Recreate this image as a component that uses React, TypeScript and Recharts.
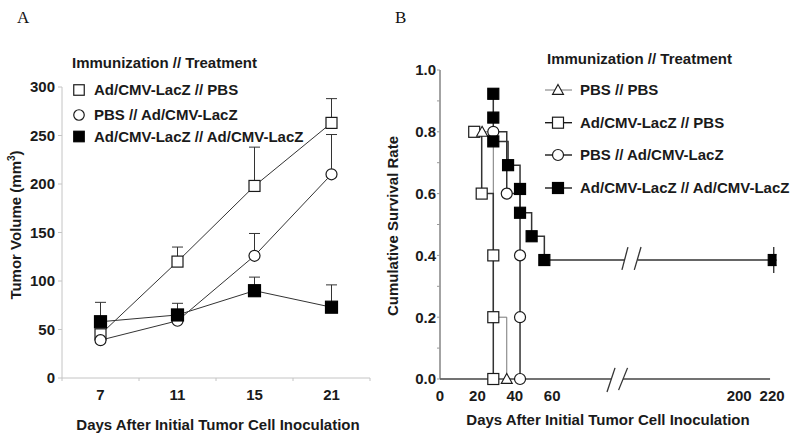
import React from 'react';
import { ComposedChart, Line, Scatter, XAxis, YAxis, ErrorBar, ReferenceLine } from 'recharts';

// ---- Panel A: tumor volume (mm3) by day ----
const days = ['7', '11', '15', '21'];
const lacZPbs = [45, 120, 198, 263];
const lacZPbsErr = [5, 15, 40, 25];
const pbsLacZ = [39, 59, 126, 210];
const pbsLacZErr = [0, 0, 23, 41];
const lacZLacZ = [58, 65, 90, 73];
const lacZLacZErr = [20, 12, 14, 23];
const volumeTicks = [0, 50, 100, 150, 200, 250, 300];

// ---- Panel B: cumulative survival, [day, rate] ----
const survPbsPbs = [[22.5, 0.8], [28.5, 0.2], [35.7, 0]];
const markPbsPbs = [[22.5, 0.8], [35.7, 0]];
const survLacZPbs = [[18.3, 0.8], [22.3, 0.6], [28.5, 0.4], [28.5, 0.2], [28.5, 0]];
const survPbsLacZ = [[28.5, 0.8], [35.7, 0.6], [42.8, 0.4], [42.8, 0.2], [42.8, 0]];
const survLacZLacZ = [
  [28.5, 0.923], [28.5, 0.846], [28.5, 0.769], [36.4, 0.692],
  [42.8, 0.615], [42.8, 0.538], [49, 0.462], [55.8, 0.385],
];
const censorLacZLacZ = [[221, 0.385]];
const dayTicks = [0, 20, 40, 60, 200, 220];
const rateTicks = [0, 0.1, 0.2, 0.3, 0.4, 0.5, 0.6, 0.7, 0.8, 0.9, 1.0];

const legendA = [
  { label: 'Ad/CMV-LacZ // PBS', kind: 'square' },
  { label: 'PBS // Ad/CMV-LacZ', kind: 'circle' },
  { label: 'Ad/CMV-LacZ // Ad/CMV-LacZ', kind: 'filled' },
];
const legendB = [
  { label: 'PBS // PBS', kind: 'triangle' },
  { label: 'Ad/CMV-LacZ // PBS', kind: 'square' },
  { label: 'PBS // Ad/CMV-LacZ', kind: 'circle' },
  { label: 'Ad/CMV-LacZ // Ad/CMV-LacZ', kind: 'filled' },
];

// broken x axis in panel B: days past 100 are squeezed
const toAxis = (d: number) => (d <= 100 ? d : 160 + (d - 200) * 0.88);
const axisGap = [91.5, 97.8];
const lineGap = [98.9, 105.6];
const axisEnd = 176.5;

const FONT = '"Liberation Sans", Arial, sans-serif';
const INK = '#1a1a1a';

const volumeData = days.map((day, i) => ({
  day,
  lacZPbs: lacZPbs[i],
  lacZPbsErr: [0, lacZPbsErr[i]],
  pbsLacZ: pbsLacZ[i],
  pbsLacZErr: [0, pbsLacZErr[i]],
  lacZLacZ: lacZLacZ[i],
  lacZLacZErr: [0, lacZLacZErr[i]],
}));

const pts = (arr: number[][]) => arr.map(([d, r]) => ({ x: toAxis(d), y: r }));
const lastRate = survLacZLacZ[survLacZLacZ.length - 1][1];
const lacZLacZLine = [
  ...pts(survLacZLacZ),
  { x: lineGap[0], y: lastRate },
  { x: (lineGap[0] + lineGap[1]) / 2, y: null },
  { x: lineGap[1], y: lastRate },
  ...pts(censorLacZLacZ),
];

function Symbol({ kind, cx, cy, s }: { kind: string; cx: number; cy: number; s: number }) {
  const h = s / 2;
  if (kind === 'circle')
    return <circle cx={cx} cy={cy} r={h} fill="#fff" stroke={INK} strokeWidth={1.2} />;
  if (kind === 'triangle')
    return (
      <polygon
        points={`${cx},${cy - h} ${cx + h},${cy + h * 0.8} ${cx - h},${cy + h * 0.8}`}
        fill="#fff"
        stroke={INK}
        strokeWidth={1.1}
      />
    );
  return (
    <rect
      x={cx - h}
      y={cy - h}
      width={s}
      height={s}
      fill={kind === 'filled' ? '#000' : '#fff'}
      stroke={kind === 'filled' ? '#000' : INK}
      strokeWidth={1.2}
    />
  );
}

const dotOf = (kind: string, s: number) => (p: any) => {
  if (p.cx == null || p.cy == null || p.value == null) return <g key={p.index} />;
  return <Symbol key={p.index} kind={kind} cx={p.cx} cy={p.cy} s={s} />;
};

const shapeOf = (kind: string, s: number) => (p: any) => <Symbol kind={kind} cx={p.cx} cy={p.cy} s={s} />;

const censorShape = (p: any) => (
  <g>
    <line x1={p.cx} x2={p.cx} y1={p.cy - 13} y2={p.cy + 13} stroke={INK} strokeWidth={1.2} />
    <line x1={p.cx} x2={p.cx + 12} y1={p.cy} y2={p.cy} stroke={INK} strokeWidth={1.2} />
    <Symbol kind="filled" cx={p.cx} cy={p.cy} s={11} />
  </g>
);

const BandTick = (p: any) => {
  const off = p.payload?.offset ?? 0;
  return (
    <g>
      <line x1={p.x - off} x2={p.x - off} y1={p.y} y2={p.y + 3} stroke="#c4c4c4" />
      {p.index === days.length - 1 && (
        <line x1={p.x + off} x2={p.x + off} y1={p.y} y2={p.y + 3} stroke="#c4c4c4" />
      )}
      <text x={p.x} y={p.y + 17} dy="0.35em" textAnchor="middle" fontFamily={FONT} fontWeight={700} fontSize={15} fill={INK}>
        {p.payload.value}
      </text>
    </g>
  );
};

const tickStyle = { fontFamily: FONT, fontWeight: 700, fontSize: 15, fill: INK };
const textProps = { fontFamily: FONT, fontWeight: 700, fontSize: 15, fill: INK };

function LegendRows({ items, x, ys, withLine }: { items: typeof legendB; x: number; ys: number[]; withLine: boolean }) {
  return (
    <g>
      {items.map((it, i) => (
        <g key={it.label}>
          {withLine && (
            <line
              x1={x - 13}
              x2={x + 14}
              y1={ys[i]}
              y2={ys[i]}
              stroke={it.kind === 'triangle' ? '#777' : INK}
              strokeWidth={it.kind === 'triangle' ? 1 : 1.4}
            />
          )}
          <Symbol kind={it.kind} cx={x} cy={ys[i]} s={withLine ? 11 : 10.5} />
          <text x={withLine ? x + 22 : x + 15} y={ys[i]} dy="0.35em" {...textProps}>
            {it.label}
          </text>
        </g>
      ))}
    </g>
  );
}

const seriesA = [
  { key: 'lacZPbs', kind: 'square', size: 11 },
  { key: 'pbsLacZ', kind: 'circle', size: 11 },
  { key: 'lacZLacZ', kind: 'filled', size: 12 },
];

const marginA = { top: 87, right: 30, bottom: 31, left: 0 };

export default function App() {
  return (
    <div style={{ position: 'relative', width: 800, height: 439, background: '#fff' }}>
      <style>{'body{margin:0}'}</style>

      {/* panel A, under layer: error whiskers only */}
      <div style={{ position: 'absolute', left: 0, top: 0 }}>
        <ComposedChart width={400} height={439} data={volumeData} margin={marginA}>
          <XAxis dataKey="day" type="category" scale="band" height={30} axisLine={false} tickLine={false} tick={false} />
          <YAxis type="number" domain={[0, 300]} ticks={volumeTicks} width={62} axisLine={false} tickLine={false} tick={false} />
          {seriesA.map((s) => (
            <Line key={s.key} dataKey={s.key} stroke="none" dot={false} activeDot={false} isAnimationActive={false}>
              <ErrorBar dataKey={s.key + 'Err'} width={5.5} stroke="#333" strokeWidth={1} direction="y" />
            </Line>
          ))}
        </ComposedChart>
      </div>

      {/* panel A, top layer: axes, lines and markers */}
      <div style={{ position: 'absolute', left: 0, top: 0 }}>
        <ComposedChart width={400} height={439} data={volumeData} margin={marginA}>
          <XAxis
            dataKey="day"
            type="category"
            scale="band"
            interval={0}
            height={30}
            tickSize={0}
            tickMargin={0}
            tickLine={false}
            axisLine={{ stroke: '#c4c4c4' }}
            tick={<BandTick />}
          />
          <YAxis
            type="number"
            domain={[0, 300]}
            ticks={volumeTicks}
            width={62}
            tickSize={4}
            tickMargin={3}
            axisLine={{ stroke: '#c4c4c4' }}
            tickLine={{ stroke: '#c4c4c4' }}
            tick={tickStyle}
          />
          {seriesA.map((s) => (
            <Line
              key={s.key}
              dataKey={s.key}
              stroke="#333"
              strokeWidth={1}
              isAnimationActive={false}
              dot={dotOf(s.kind, s.size)}
              activeDot={false}
            />
          ))}
        </ComposedChart>
      </div>

      <div style={{ position: 'absolute', left: 400, top: 0 }}>
        <ComposedChart width={400} height={439} margin={{ top: 70, right: 23.4, bottom: 30, left: 0 }}>
          <XAxis
            dataKey="x"
            type="number"
            domain={[0, 180]}
            ticks={dayTicks.map(toAxis)}
            tickFormatter={(v: number) => String(dayTicks[dayTicks.map(toAxis).indexOf(v)] ?? '')}
            height={30}
            tickSize={0}
            tickMargin={11}
            axisLine={false}
            tickLine={false}
            tick={tickStyle}
            allowDataOverflow
          />
          <YAxis
            dataKey="y"
            type="number"
            domain={[0, 1]}
            ticks={rateTicks}
            tickFormatter={(v: number) => (Math.round(v * 10) % 2 === 0 ? v.toFixed(1) : '')}
            width={40}
            tickSize={3}
            tickMargin={1}
            axisLine={{ stroke: '#666', strokeWidth: 1.2 }}
            tickLine={{ stroke: '#999' }}
            tick={tickStyle}
          />
          <ReferenceLine segment={[{ x: 0, y: 0 }, { x: axisGap[0], y: 0 }]} stroke="#444" strokeWidth={1.3} ifOverflow="visible" />
          <ReferenceLine segment={[{ x: axisGap[1], y: 0 }, { x: axisEnd, y: 0 }]} stroke="#444" strokeWidth={1.3} ifOverflow="visible" />
          <ReferenceLine segment={[{ x: 89.3, y: -0.042 }, { x: 93.6, y: 0.036 }]} stroke="#333" strokeWidth={1.3} ifOverflow="visible" />
          <ReferenceLine segment={[{ x: 95.5, y: -0.036 }, { x: 100.3, y: 0.036 }]} stroke="#333" strokeWidth={1.3} ifOverflow="visible" />
          <ReferenceLine segment={[{ x: 97.3, y: 0.353 }, { x: 100.5, y: 0.427 }]} stroke="#333" strokeWidth={1.3} ifOverflow="visible" />
          <ReferenceLine segment={[{ x: 103.9, y: 0.353 }, { x: 107.5, y: 0.427 }]} stroke="#333" strokeWidth={1.3} ifOverflow="visible" />

          <Line data={pts(survPbsPbs)} dataKey="y" type="stepAfter" stroke="#777" strokeWidth={1} dot={false} activeDot={false} isAnimationActive={false} />
          <Line data={pts(survLacZPbs)} dataKey="y" type="stepAfter" stroke="#333" strokeWidth={1.5} dot={false} activeDot={false} isAnimationActive={false} />
          <Line data={pts(survPbsLacZ)} dataKey="y" type="stepAfter" stroke="#333" strokeWidth={1.5} dot={false} activeDot={false} isAnimationActive={false} />
          <Line data={lacZLacZLine} dataKey="y" type="stepAfter" stroke="#333" strokeWidth={1.5} dot={false} activeDot={false} isAnimationActive={false} />

          <Scatter data={pts(survLacZPbs)} shape={shapeOf('square', 11)} isAnimationActive={false} />
          <Scatter data={pts(markPbsPbs)} shape={shapeOf('triangle', 11)} isAnimationActive={false} />
          <Scatter data={pts(survPbsLacZ)} shape={shapeOf('circle', 11)} isAnimationActive={false} />
          <Scatter data={pts(survLacZLacZ)} shape={shapeOf('filled', 11)} isAnimationActive={false} />
          <Scatter data={pts(censorLacZLacZ)} shape={censorShape} isAnimationActive={false} />
        </ComposedChart>
      </div>

      <svg width={800} height={439} style={{ position: 'absolute', left: 0, top: 0, pointerEvents: 'none' }}>
        <text x={17} y={23} fontFamily='"Liberation Serif", "Times New Roman", serif' fontSize={17} fill="#111">A</text>
        <text x={395} y={23} fontFamily='"Liberation Serif", "Times New Roman", serif' fontSize={17} fill="#111">B</text>

        <text x={72} y={63} dy="0.35em" {...textProps}>Immunization // Treatment</text>
        <LegendRows items={legendA} x={79} ys={[90, 115, 136.5]} withLine={false} />

        <text x={547} y={59} dy="0.35em" {...textProps}>Immunization // Treatment</text>
        <LegendRows items={legendB} x={558} ys={[90, 122.7, 155, 188]} withLine />

        <text x={16} y={225} dy="0.35em" textAnchor="middle" transform="rotate(-90 16 225)" {...textProps}>
          Tumor Volume (mm<tspan fontSize={10} dy={-6}>3</tspan><tspan dy={6}>)</tspan>
        </text>
        <text x={393} y={226} dy="0.35em" textAnchor="middle" transform="rotate(-90 393 226)" {...textProps}>
          Cumulative Survival Rate
        </text>

        <text x={218} y={425} dy="0.35em" textAnchor="middle" {...textProps}>Days After Initial Tumor Cell Inoculation</text>
        <text x={608} y={420} dy="0.35em" textAnchor="middle" {...textProps}>Days After Initial Tumor Cell Inoculation</text>
      </svg>
    </div>
  );
}
